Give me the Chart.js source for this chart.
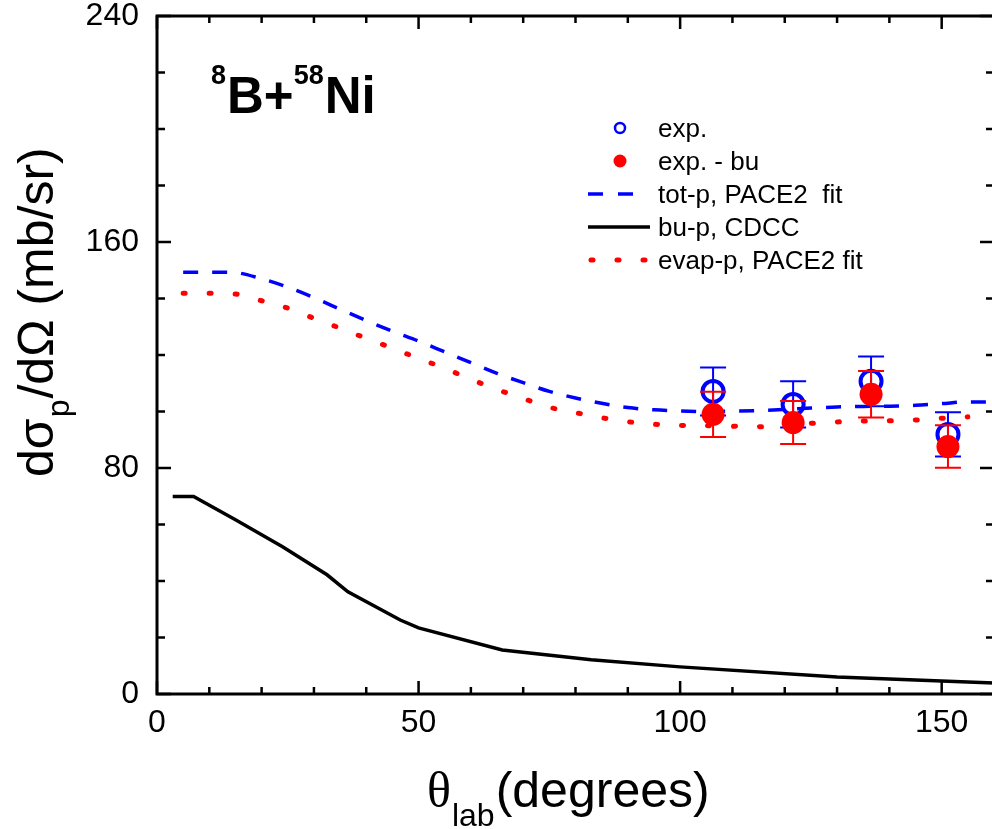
<!DOCTYPE html>
<html><head><meta charset="utf-8">
<script src="https://cdn.jsdelivr.net/npm/chart.js@4/dist/chart.umd.min.js"></script>
<style>html,body{margin:0;padding:0;background:#fff;overflow:hidden}#wrap{width:996px;height:829px;position:relative}</style>
</head><body><div id="wrap"><canvas id="c" width="996" height="829"></canvas></div>
<script>
// ---- data ----
const totTheta = [5,14,20,25,30,35,40,45,50,55,60,65,70,75,80,85,90,95,100,105,110,115,120,125,130,135,140,145,150,155,160];
const totP     = [149.3,149.3,147.0,144.0,140.3,136.2,132.2,128.4,124.9,121.1,117.3,113.5,110.2,107.1,104.8,102.9,101.4,100.6,100.2,100.0,100.1,100.3,100.7,101.2,101.6,101.8,101.9,102.2,102.8,103.4,103.4];
const evapTheta = [5,10,15,20,25,30,35,40,45,50,55,60,65,70,75,80,85,90,95,100,105,110,115,120,125,130,135,140,145,150,155];
const evapP     = [141.9,141.9,141.6,139.2,136.6,133.0,129.5,125.9,122.4,118.8,115.3,111.4,107.8,104.6,101.5,99.6,97.8,96.4,95.5,95.1,95.0,94.8,94.6,95.0,95.8,96.3,96.6,96.7,97.0,97.6,98.1];
const buTheta = [3,7,15,24,32.5,36.5,46.5,50,66,83,100,130,160];
const buP     = [69.9,69.9,61.7,52.1,42.2,36.2,26.2,23.4,15.6,12.1,9.6,6.0,3.9];
const expTheta = [106.3,121.6,136.5,151.2];
const expVal   = [107.1,102.5,110.7,91.9];
const expErr   = [8.5,8.2,8.8,7.8];
const expBuVal = [99.0,96.1,106.1,87.6];
const expBuErr = [8.0,7.6,8.2,7.5];
const legendLabels = ['exp.','exp. - bu','tot-p, PACE2  fit','bu-p, CDCC','evap-p, PACE2 fit'];
const xTickStep = 50, xMinorStep = 10, yTickStep = 80, yMinorStep = 20;

const xy = (xs, ys) => xs.map((x, i) => ({x, y: ys[i]}));
const SANS = '"Liberation Sans", Arial, sans-serif';
const SERIF = '"Liberation Serif", "Times New Roman", serif';

const custom = {
  id: 'custom',
  beforeDatasetDraw(chart, args) {
    const ds = chart.data.datasets[args.index];
    if (!ds.errors) return;
    const ctx = chart.ctx, xs = chart.scales.x, ys = chart.scales.y;
    ctx.save();
    ctx.strokeStyle = ds.errColor; ctx.lineWidth = 2;
    ds.data.forEach((p, i) => {
      const px = xs.getPixelForValue(p.x);
      const yt = ys.getPixelForValue(p.y + ds.errors[i]);
      const yb = ys.getPixelForValue(p.y - ds.errors[i]);
      ctx.beginPath();
      ctx.moveTo(px, yt); ctx.lineTo(px, yb);
      ctx.moveTo(px - 13, yt); ctx.lineTo(px + 13, yt);
      ctx.moveTo(px - 13, yb); ctx.lineTo(px + 13, yb);
      ctx.stroke();
    });
    ctx.restore();
  },
  afterDraw(chart) {
    const ctx = chart.ctx, a = chart.chartArea, xs = chart.scales.x, ys = chart.scales.y;
    ctx.save();
    // frame
    ctx.strokeStyle = '#000'; ctx.lineWidth = 3;
    ctx.strokeRect(a.left, a.top, a.right - a.left, a.bottom - a.top);
    // ticks
    ctx.lineWidth = 2.5;
    ctx.beginPath();
    for (let v = 0; v <= 160; v += xMinorStep) {
      const px = xs.getPixelForValue(v);
      const len = (v % xTickStep === 0) ? 13 : 7;
      ctx.moveTo(px, a.bottom); ctx.lineTo(px, a.bottom - len);
      ctx.moveTo(px, a.top); ctx.lineTo(px, a.top + len);
    }
    for (let v = 0; v <= 240; v += yMinorStep) {
      const py = ys.getPixelForValue(v);
      const len = (v % yTickStep === 0) ? 14 : 8;
      ctx.moveTo(a.left, py); ctx.lineTo(a.left + len, py);
      ctx.moveTo(a.right, py); ctx.lineTo(a.right - len, py);
    }
    ctx.stroke();

    ctx.fillStyle = '#000';
    ctx.textBaseline = 'alphabetic'; ctx.textAlign = 'left';
    // x title
    let x = 427;
    ctx.font = '50px ' + SERIF; ctx.fillText('θ', x, 807); x += ctx.measureText('θ').width + 1;
    ctx.font = '32px ' + SANS; ctx.fillText('lab', x, 826); x += ctx.measureText('lab').width + 1;
    ctx.font = '50px ' + SANS; ctx.fillText('(degrees)', x, 807);
    // y title
    ctx.save();
    ctx.translate(53, 477); ctx.rotate(-Math.PI / 2);
    let t = 0;
    ctx.font = '50px ' + SANS; ctx.fillText('dσ', t, 0); t += ctx.measureText('dσ').width + 1;
    ctx.font = '32px ' + SANS; ctx.fillText('p', t, 16); t += ctx.measureText('p').width + 1;
    ctx.font = '50px ' + SANS; ctx.fillText('/dΩ (mb/sr)', t, 0);
    ctx.restore();
    // annotation 8B+58Ni
    x = 211;
    ctx.font = 'bold 27px ' + SANS; ctx.fillText('8', x, 84); x += ctx.measureText('8').width + 1;
    ctx.font = 'bold 51px ' + SANS; ctx.fillText('B+', x, 113); x += ctx.measureText('B+').width;
    ctx.font = 'bold 27px ' + SANS; ctx.fillText('58', x, 84); x += ctx.measureText('58').width + 1;
    ctx.font = 'bold 51px ' + SANS; ctx.fillText('Ni', x, 113);

    // legend
    const rows = [128, 161, 194, 227, 260];
    ctx.font = '26px ' + SANS;
    legendLabels.forEach((lab, i) => ctx.fillText(lab, 658, rows[i] + 9));
    // symbols
    ctx.strokeStyle = '#0000ff'; ctx.lineWidth = 2.5;
    ctx.beginPath(); ctx.arc(620, rows[0], 5, 0, Math.PI * 2); ctx.stroke();
    ctx.fillStyle = '#ff0000';
    ctx.beginPath(); ctx.arc(620, rows[1], 6.5, 0, Math.PI * 2); ctx.fill();
    ctx.lineWidth = 3.5; ctx.setLineDash([15, 15]); ctx.strokeStyle = '#0000ff';
    ctx.beginPath(); ctx.moveTo(588, rows[2]); ctx.lineTo(633, rows[2]); ctx.stroke();
    ctx.setLineDash([]); ctx.strokeStyle = '#000';
    ctx.beginPath(); ctx.moveTo(588, rows[3]); ctx.lineTo(650, rows[3]); ctx.stroke();
    ctx.strokeStyle = '#ff0000'; ctx.lineWidth = 5; ctx.lineCap = 'round'; ctx.setLineDash([2, 24]);
    ctx.beginPath(); ctx.moveTo(591, rows[4]); ctx.lineTo(646, rows[4]); ctx.stroke();
    ctx.restore();
  }
};

function zeroPad(s) { s.paddingLeft = 0; s.paddingRight = 0; s.paddingTop = 0; s.paddingBottom = 0; }

new Chart(document.getElementById('c'), {
  type: 'scatter',
  data: {
    datasets: [
      { label: legendLabels[1], data: xy(expTheta, expBuVal), errors: expBuErr, errColor: '#ff0000',
        pointRadius: 11.5, pointBackgroundColor: '#ff0000', pointBorderColor: '#ff0000', pointBorderWidth: 0, showLine: false, order: 0 },
      { label: legendLabels[0], data: xy(expTheta, expVal), errors: expErr, errColor: '#0000ff',
        pointRadius: 10.5, pointBackgroundColor: 'rgba(0,0,0,0)', pointBorderColor: '#0000ff', pointBorderWidth: 4, showLine: false, order: 1 },
      { label: legendLabels[2], data: xy(totTheta, totP), showLine: true, borderColor: '#0000ff', borderWidth: 3.5,
        borderDash: [15, 14], pointRadius: 0, cubicInterpolationMode: 'monotone', order: 2 },
      { label: legendLabels[3], data: xy(buTheta, buP), showLine: true, borderColor: '#000', borderWidth: 3.5,
        pointRadius: 0, tension: 0, order: 3 },
      { label: legendLabels[4], data: xy(evapTheta, evapP), showLine: true, borderColor: '#ff0000', borderWidth: 5,
        borderDash: [2, 24], borderCapStyle: 'round', pointRadius: 0, cubicInterpolationMode: 'monotone', order: 4 }
    ]
  },
  options: {
    responsive: false, animation: false, devicePixelRatio: 1,
    layout: { autoPadding: false, padding: { top: 16, right: 2, left: 0, bottom: 0 } },
    plugins: { legend: { display: false }, tooltip: { enabled: false } },
    scales: {
      x: { type: 'linear', min: 0, max: 160,
        afterFit(s) { s.height = 135; zeroPad(s); },
        grid: { display: false, drawTicks: false }, border: { display: false },
        ticks: { stepSize: xTickStep, includeBounds: false, maxRotation: 0, autoSkip: false, padding: 10,
          color: '#000', font: { family: SANS, size: 32 } } },
      y: { type: 'linear', min: 0, max: 240,
        afterFit(s) { s.width = 157; zeroPad(s); },
        grid: { display: false, drawTicks: false }, border: { display: false },
        ticks: { stepSize: yTickStep, includeBounds: false, padding: 18,
          color: '#000', font: { family: SANS, size: 32, lineHeight: 1 } } }
    }
  },
  plugins: [custom]
});
</script></body></html>
